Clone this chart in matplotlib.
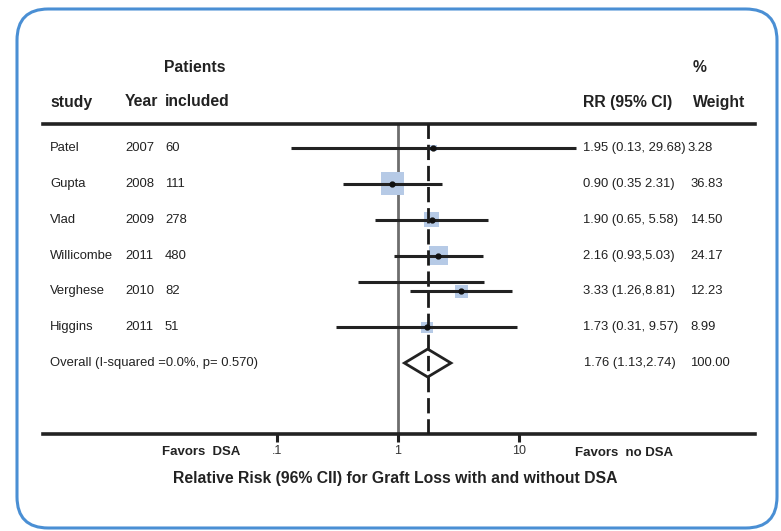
import matplotlib
matplotlib.use("Agg")
import matplotlib.pyplot as plt
import matplotlib.transforms as mtransforms
from matplotlib.patches import FancyBboxPatch, Polygon
import numpy as np

plt.rcParams.update({"font.family": ["Liberation Sans", "DejaVu Sans"]})

# data
studies = ["Patel", "Gupta", "Vlad", "Willicombe", "Verghese", "Higgins"]
years = ["2007", "2008", "2009", "2011", "2010", "2011"]
patients = ["60", "111", "278", "480", "82", "51"]
rr = [1.95, 0.90, 1.90, 2.16, 3.33, 1.73]
ci_low = [0.13, 0.35, 0.65, 0.93, 1.26, 0.31]
ci_high = [29.68, 2.31, 5.58, 5.03, 8.81, 9.57]
rr_text = ["1.95 (0.13, 29.68)", "0.90 (0.35 2.31)", "1.90 (0.65, 5.58)",
           "2.16 (0.93,5.03)", "3.33 (1.26,8.81)", "1.73 (0.31, 9.57)"]
weights = ["3.28", "36.83", "14.50", "24.17", "12.23", "8.99"]
weight_vals = [3.28, 36.83, 14.50, 24.17, 12.23, 8.99]

overall_label = "Overall (I-squared =0.0%, p= 0.570)"
overall_rr, overall_lo, overall_hi = 1.76, 1.13, 2.74
overall_text, overall_weight = "1.76 (1.13,2.74)", "100.00"

# leftover line drawn just above the Verghese row in the original
stray_lo, stray_hi = 0.47, 5.1

W, H = 781, 531
fig = plt.figure(figsize=(W / 100, H / 100), dpi=100)

# rounded blue frame
frame = FancyBboxPatch((17 / W, 3 / H), 760 / W, 519 / H,
                       boxstyle="round,pad=0,rounding_size=0.04",
                       transform=fig.transFigure, facecolor="none",
                       edgecolor="#4a8fd4", linewidth=2.2, mutation_aspect=W / H)
fig.patches.append(frame)

# axes in pixel placement: x 43..755, y 124..434 (from top)
ax = fig.add_axes([43 / W, 1 - 434 / H, 712 / W, 310 / H])
ax.patch.set_alpha(0)
ax.set_xscale("log")
ax.set_xlim(10 ** ((43 - 398) / 121), 10 ** ((755 - 398) / 121))
ax.set_ylim(7.98, -0.67)
for s in ["left", "right"]:
    ax.spines[s].set_visible(False)
for s in ["top", "bottom"]:
    ax.spines[s].set_linewidth(2.6)
    ax.spines[s].set_color("#222222")
ax.set_yticks([])
ax.set_xticks([0.1, 1, 10])
ax.set_xticklabels([".1", "1", "10"])
ax.xaxis.set_minor_locator(matplotlib.ticker.NullLocator())
ax.tick_params(axis="x", direction="out", length=6, width=2.2, color="#222222",
               labelsize=9, labelcolor="#333333", pad=2)

ypos = np.arange(len(studies))

# reference lines
ax.axvline(1, color="#6e6e6e", lw=2)
ax.axvline(overall_rr, color="#1a1a1a", lw=2, dashes=(5.5, 2.1), zorder=3)

# weight squares, CI lines and point estimates
ax.scatter(rr, ypos, marker="s", s=[w * 7.5 for w in weight_vals],
           color="#b6cae6", edgecolor="none", zorder=2)
ax.hlines(ypos, ci_low, ci_high, color="#222222", lw=2.2, zorder=4)
ax.plot(rr, ypos, "o", color="#111111", ms=3.5, zorder=5)
ax.hlines(ypos[4] - 0.26, stray_lo, stray_hi, color="#222222", lw=2.2, zorder=4)

# overall diamond
yo = len(studies)
diamond = Polygon([[overall_lo, yo], [overall_rr, yo - 0.39],
                   [overall_hi, yo], [overall_rr, yo + 0.39]],
                  closed=True, fill=False, edgecolor="#222222", lw=2, zorder=4)
ax.add_patch(diamond)

# text columns (x in pixels converted to axes fraction)
tr = mtransforms.blended_transform_factory(ax.transAxes, ax.transData)
def px(x):
    return (x - 43) / 712

fs = 9.4
for i in range(len(studies)):
    ax.text(px(50), i, studies[i], transform=tr, fontsize=fs, va="center", color="#222222")
    ax.text(px(125), i, years[i], transform=tr, fontsize=fs, va="center", color="#222222")
    ax.text(px(165), i, patients[i], transform=tr, fontsize=fs, va="center", color="#222222")
    ax.text(px(583), i, rr_text[i], transform=tr, fontsize=fs, va="center", color="#222222")
    ax.text(px(687 if i == 0 else 690), i, weights[i], transform=tr, fontsize=fs,
            va="center", color="#222222")
ax.text(px(50), yo, overall_label, transform=tr, fontsize=fs, va="center", color="#222222")
ax.text(px(584), yo, overall_text, transform=tr, fontsize=fs, va="center", color="#222222")
ax.text(px(690), yo, overall_weight, transform=tr, fontsize=fs, va="center", color="#222222")

# headers (figure pixel coords)
def ftext(x, y, s, **kw):
    fig.text(x / W, 1 - y / H, s, va="center", color="#222222", **kw)

hs = 11.3
ftext(164, 68, "Patients", fontsize=hs, weight="bold")
ftext(50, 102, "study", fontsize=hs, weight="bold")
ftext(125, 102, "Year", fontsize=hs, weight="bold")
ftext(165, 102, "included", fontsize=hs, weight="bold")
ftext(583, 102, "RR (95% CI)", fontsize=hs, weight="bold")
ftext(693, 68, "%", fontsize=hs, weight="bold")
ftext(693, 102, "Weight", fontsize=hs, weight="bold")

ftext(162, 452, "Favors  DSA", fontsize=9.5, weight="bold")
ftext(575, 453, "Favors  no DSA", fontsize=9.5, weight="bold")
fig.text(395 / W, 1 - 479 / H, "Relative Risk (96% CII) for Graft Loss with and without DSA",
         ha="center", va="center", fontsize=11.3, weight="bold", color="#222222")

fig.savefig("out.png", dpi=100)
